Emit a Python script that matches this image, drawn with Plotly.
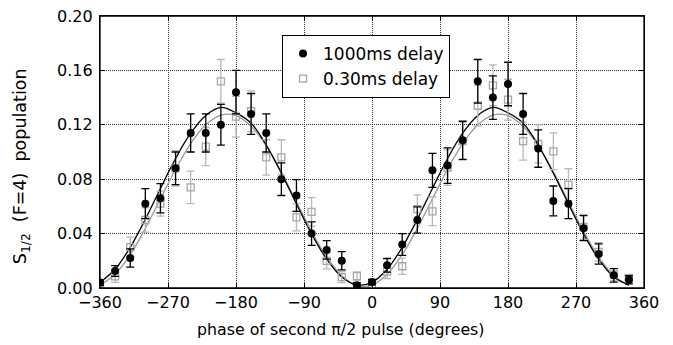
import plotly.graph_objects as go

# phase of second pi/2 pulse (degrees)
phase = [-360, -340, -320, -300, -280, -260, -240, -220, -200, -180, -160, -140,
         -120, -100, -80, -60, -40, -20, 0, 20, 40, 60, 80, 100,
         120, 140, 160, 180, 200, 220, 240, 260, 280, 300, 320, 340]

# 1000 ms delay (black filled circles)
pop_1000 = [0.004, 0.0125, 0.022, 0.062, 0.066, 0.088, 0.114, 0.114, 0.120, 0.144, 0.128, 0.114,
            0.080, 0.068, 0.040, 0.028, 0.020, 0.002, 0.0044, 0.0167, 0.032, 0.050, 0.0865, 0.090,
            0.1086, 0.152, 0.140, 0.150, 0.128, 0.1025, 0.064, 0.062, 0.044, 0.025, 0.0093, 0.006]
err_1000 = [0.002, 0.004, 0.0067, 0.011, 0.0107, 0.012, 0.014, 0.014, 0.015, 0.016, 0.015, 0.014,
            0.012, 0.0117, 0.0086, 0.0068, 0.0067, 0.002, 0.002, 0.005, 0.008, 0.0096, 0.0125, 0.013,
            0.014, 0.016, 0.016, 0.016, 0.015, 0.0137, 0.011, 0.011, 0.0092, 0.0074, 0.005, 0.003]

# 0.30 ms delay (gray open squares)
pop_030 = [0.003, 0.0086, 0.030, 0.050, 0.062, 0.088, 0.074, 0.104, 0.152, 0.126, 0.130, 0.096,
           0.096, 0.052, 0.056, 0.020, 0.008, 0.0088, 0.0007, 0.012, 0.016, 0.058, 0.0564, 0.0885,
           0.108, 0.134, 0.149, 0.1385, 0.108, 0.106, 0.1005, 0.076, 0.045, 0.0265, 0.010, 0.007]
err_030 = [0.002, 0.0045, 0.0074, 0.009, 0.0092, 0.013, 0.012, 0.014, 0.016, 0.015, 0.015, 0.013,
           0.013, 0.010, 0.0105, 0.006, 0.004, 0.003, 0.002, 0.005, 0.006, 0.0105, 0.0105, 0.013,
           0.014, 0.015, 0.015, 0.015, 0.014, 0.014, 0.0135, 0.0117, 0.0092, 0.0068, 0.0045, 0.003]

# fitted curves at the same phases
fit_1000 = [0.0042, 0.0138, 0.0299, 0.0505, 0.0732, 0.0952, 0.1138, 0.1269, 0.1328, 0.1288, 0.1212, 0.1051,
            0.0845, 0.0618, 0.0398, 0.0212, 0.0081, 0.0023, 0.0042, 0.0138, 0.0299, 0.0505, 0.0732, 0.0952,
            0.1138, 0.1269, 0.1328, 0.1288, 0.1212, 0.1051, 0.0845, 0.0618, 0.0398, 0.0212, 0.0081, 0.0023]
fit_030 = [0.0022, 0.0101, 0.0245, 0.0438, 0.0656, 0.0873, 0.1062, 0.1200, 0.1272, 0.1268, 0.1189, 0.1045,
           0.0852, 0.0634, 0.0417, 0.0228, 0.0090, 0.0018, 0.0022, 0.0101, 0.0245, 0.0438, 0.0656, 0.0873,
           0.1062, 0.1200, 0.1272, 0.1268, 0.1189, 0.1045, 0.0852, 0.0634, 0.0417, 0.0228, 0.0090, 0.0018]

x_ticks = [-360, -270, -180, -90, 0, 90, 180, 270, 360]
x_ticktext = ["−360", "−270", "−180", "−90", "0", "90", "180", "270", "360"]
y_ticks = [0.00, 0.04, 0.08, 0.12, 0.16, 0.20]
y_ticktext = ["0.00", "0.04", "0.08", "0.12", "0.16", "0.20"]

x_title = "phase of second π/2 pulse (degrees)"
y_title = "S<sub>1/2</sub>  (F=4)  population"

FONT = "DejaVu Sans"
GRAY = "#a6a6a6"
GRAY_LINE = "#9a9a9a"

fig = go.Figure()

fig.add_trace(go.Scatter(
    x=phase, y=fit_030, mode="lines", line=dict(color=GRAY_LINE, width=1.3, shape="spline"),
    showlegend=False, hoverinfo="skip"))
fig.add_trace(go.Scatter(
    x=phase, y=fit_1000, mode="lines", line=dict(color="black", width=1.3, shape="spline"),
    showlegend=False, hoverinfo="skip"))

fig.add_trace(go.Scatter(
    x=phase, y=pop_030, mode="markers", name="0.30ms delay",
    marker=dict(symbol="square-open", size=7, color=GRAY, line=dict(width=1.3, color=GRAY)),
    error_y=dict(type="data", array=err_030, color="#b8b8b8", thickness=1.3, width=4)))
fig.add_trace(go.Scatter(
    x=phase, y=pop_1000, mode="markers", name="1000ms delay",
    marker=dict(symbol="circle", size=8, color="black"),
    error_y=dict(type="data", array=err_1000, color="black", thickness=1.3, width=4)))

fig.update_layout(
    width=673, height=345,
    margin=dict(l=92, r=37, t=8, b=65, autoexpand=False),
    paper_bgcolor="white", plot_bgcolor="white",
    font=dict(family=FONT, size=16, color="black"),
    legend=dict(x=0.3346, y=0.93, xanchor="left", yanchor="top",
                bgcolor="white", bordercolor="black", borderwidth=1,
                font=dict(family=FONT, size=17), traceorder="reversed",
                tracegroupgap=0),
    showlegend=True,
    annotations=[
        dict(text=x_title, xref="paper", yref="paper", x=0.443, y=-0.154,
             xanchor="center", yanchor="middle", showarrow=False,
             font=dict(family=FONT, size=15.8, color="black")),
        dict(text=y_title, xref="paper", yref="paper", x=-0.145, y=0.4485,
             xanchor="center", yanchor="middle", showarrow=False, textangle=-90,
             font=dict(family=FONT, size=17.5, color="black")),
    ],
    shapes=[dict(type="rect", xref="paper", yref="paper", x0=0, x1=1, y0=0, y1=1,
                 line=dict(color="black", width=1.3), fillcolor="rgba(0,0,0,0)", layer="above")],
)

fig.update_xaxes(
    range=[-360, 360], tickvals=x_ticks, ticktext=x_ticktext,
    showline=True, linecolor="black", linewidth=1.3, mirror="ticks",
    ticks="inside", ticklen=5, tickcolor="black",
    showgrid=True, gridcolor="#333", griddash="1px,1px", gridwidth=1,
    zeroline=False, automargin=False, ticklabelstandoff=0, ticklabeloverflow="allow",
)
fig.update_yaxes(
    range=[0, 0.20], tickvals=y_ticks, ticktext=y_ticktext,
    showline=True, linecolor="black", linewidth=1.3, mirror="ticks",
    ticks="inside", ticklen=5, tickcolor="black",
    showgrid=True, gridcolor="#333", griddash="1px,1px", gridwidth=1,
    zeroline=False, automargin=False, ticklabelstandoff=3, ticklabeloverflow="allow",
)

fig.write_html("out.html")
